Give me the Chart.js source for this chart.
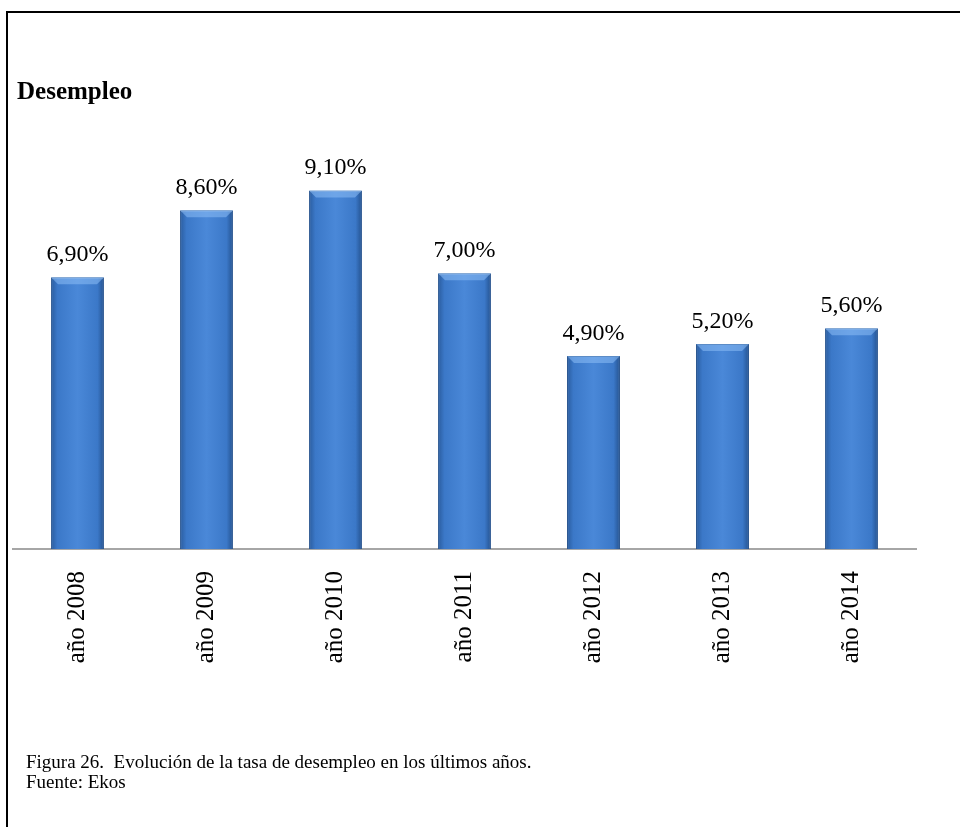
<!DOCTYPE html>
<html>
<head>
<meta charset="utf-8">
<script src="https://cdn.jsdelivr.net/npm/chart.js@4"></script>
<style>
  body { margin: 0; background: #fff; }
  #wrap { position: relative; width: 960px; height: 827px; overflow: hidden; }
  #frame { position: absolute; left: 6px; top: 11px; right: -10px; bottom: -10px;
           border-left: 2px solid #000; border-top: 2px solid #000; }
  #chart { position: absolute; left: 0; top: 0; }
  .txt { position: absolute; font-family: "Liberation Serif", "Times New Roman", serif; color: #000; white-space: nowrap; line-height: 1; }
  #title { left: 17px; top: 78px; font-size: 25px; font-weight: bold; }
  #caption { left: 26px; top: 752px; font-size: 19px; line-height: 20px; }
</style>
</head>
<body>
<div id="wrap">
  <div id="frame"></div>
  <canvas id="chart" width="960" height="827"></canvas>
  <div class="txt" id="title">Desempleo</div>
  <div class="txt" id="caption">Figura 26.&nbsp; Evolución de la tasa de desempleo en los últimos años.<br>Fuente: Ekos</div>
</div>
<script>
const categories = ["año 2008", "año 2009", "año 2010", "año 2011", "año 2012", "año 2013", "año 2014"];
const rates = [6.9, 8.6, 9.1, 7.0, 4.9, 5.2, 5.6];
const rateLabels = ["6,90%", "8,60%", "9,10%", "7,00%", "4,90%", "5,20%", "5,60%"];

const serif = "'Liberation Serif', 'Times New Roman', serif";

// horizontal gradient per bar, like the bevelled office style
const barShading = {
  id: "barShading",
  beforeDatasetsDraw(chart) {
    const ctx = chart.ctx;
    chart.getDatasetMeta(0).data.forEach((bar) => {
      const half = bar.width / 2;
      const g = ctx.createLinearGradient(bar.x - half, 0, bar.x + half, 0);
      g.addColorStop(0, "#2a5c9e");
      g.addColorStop(0.12, "#3b78c8");
      g.addColorStop(0.5, "#4a88d8");
      g.addColorStop(0.88, "#3b78c8");
      g.addColorStop(1, "#24528f");
      bar.options.backgroundColor = g;
    });
  },
  afterDatasetsDraw(chart) {
    const ctx = chart.ctx;
    chart.getDatasetMeta(0).data.forEach((bar) => {
      const l = bar.x - bar.width / 2, r = bar.x + bar.width / 2, t = bar.y, b = 7;
      ctx.save();
      ctx.fillStyle = "rgba(140,190,245,0.55)";
      ctx.beginPath();
      ctx.moveTo(l, t);
      ctx.lineTo(r, t);
      ctx.lineTo(r - b, t + b);
      ctx.lineTo(l + b, t + b);
      ctx.closePath();
      ctx.fill();
      ctx.restore();
    });
  }
};

const valueLabels = {
  id: "valueLabels",
  afterDatasetsDraw(chart) {
    const ctx = chart.ctx;
    ctx.save();
    ctx.font = "24px " + serif;
    ctx.fillStyle = "#000";
    ctx.textAlign = "center";
    ctx.textBaseline = "alphabetic";
    chart.getDatasetMeta(0).data.forEach((bar, i) => {
      ctx.fillText(rateLabels[i], bar.x, bar.y - 16);
    });
    ctx.restore();
  }
};

new Chart(document.getElementById("chart"), {
  type: "bar",
  data: {
    labels: categories,
    datasets: [
      {
        data: rates,
        // scriptable so every bar gets its own options object
        backgroundColor: (c) => "#3b78c8",
        borderColor: "#22508c",
        borderWidth: 1,
        borderSkipped: "bottom",
        barPercentage: 0.41,
        categoryPercentage: 1
      }
    ]
  },
  options: {
    responsive: false,
    animation: false,
    layout: { padding: { left: 13, right: 44, top: 155, bottom: 0 } },
    plugins: { legend: { display: false }, tooltip: { enabled: false } },
    scales: {
      x: {
        grid: { display: false },
        border: { color: "#a6a6a6", width: 2 },
        ticks: { color: "#000", font: { family: serif, size: 25 }, minRotation: 90, maxRotation: 90, padding: 14 },
        afterFit(scale) { scale.height = 278; }
      },
      y: { display: false, min: 0, max: 10 }
    }
  },
  plugins: [barShading, valueLabels]
});
</script>
</body>
</html>
